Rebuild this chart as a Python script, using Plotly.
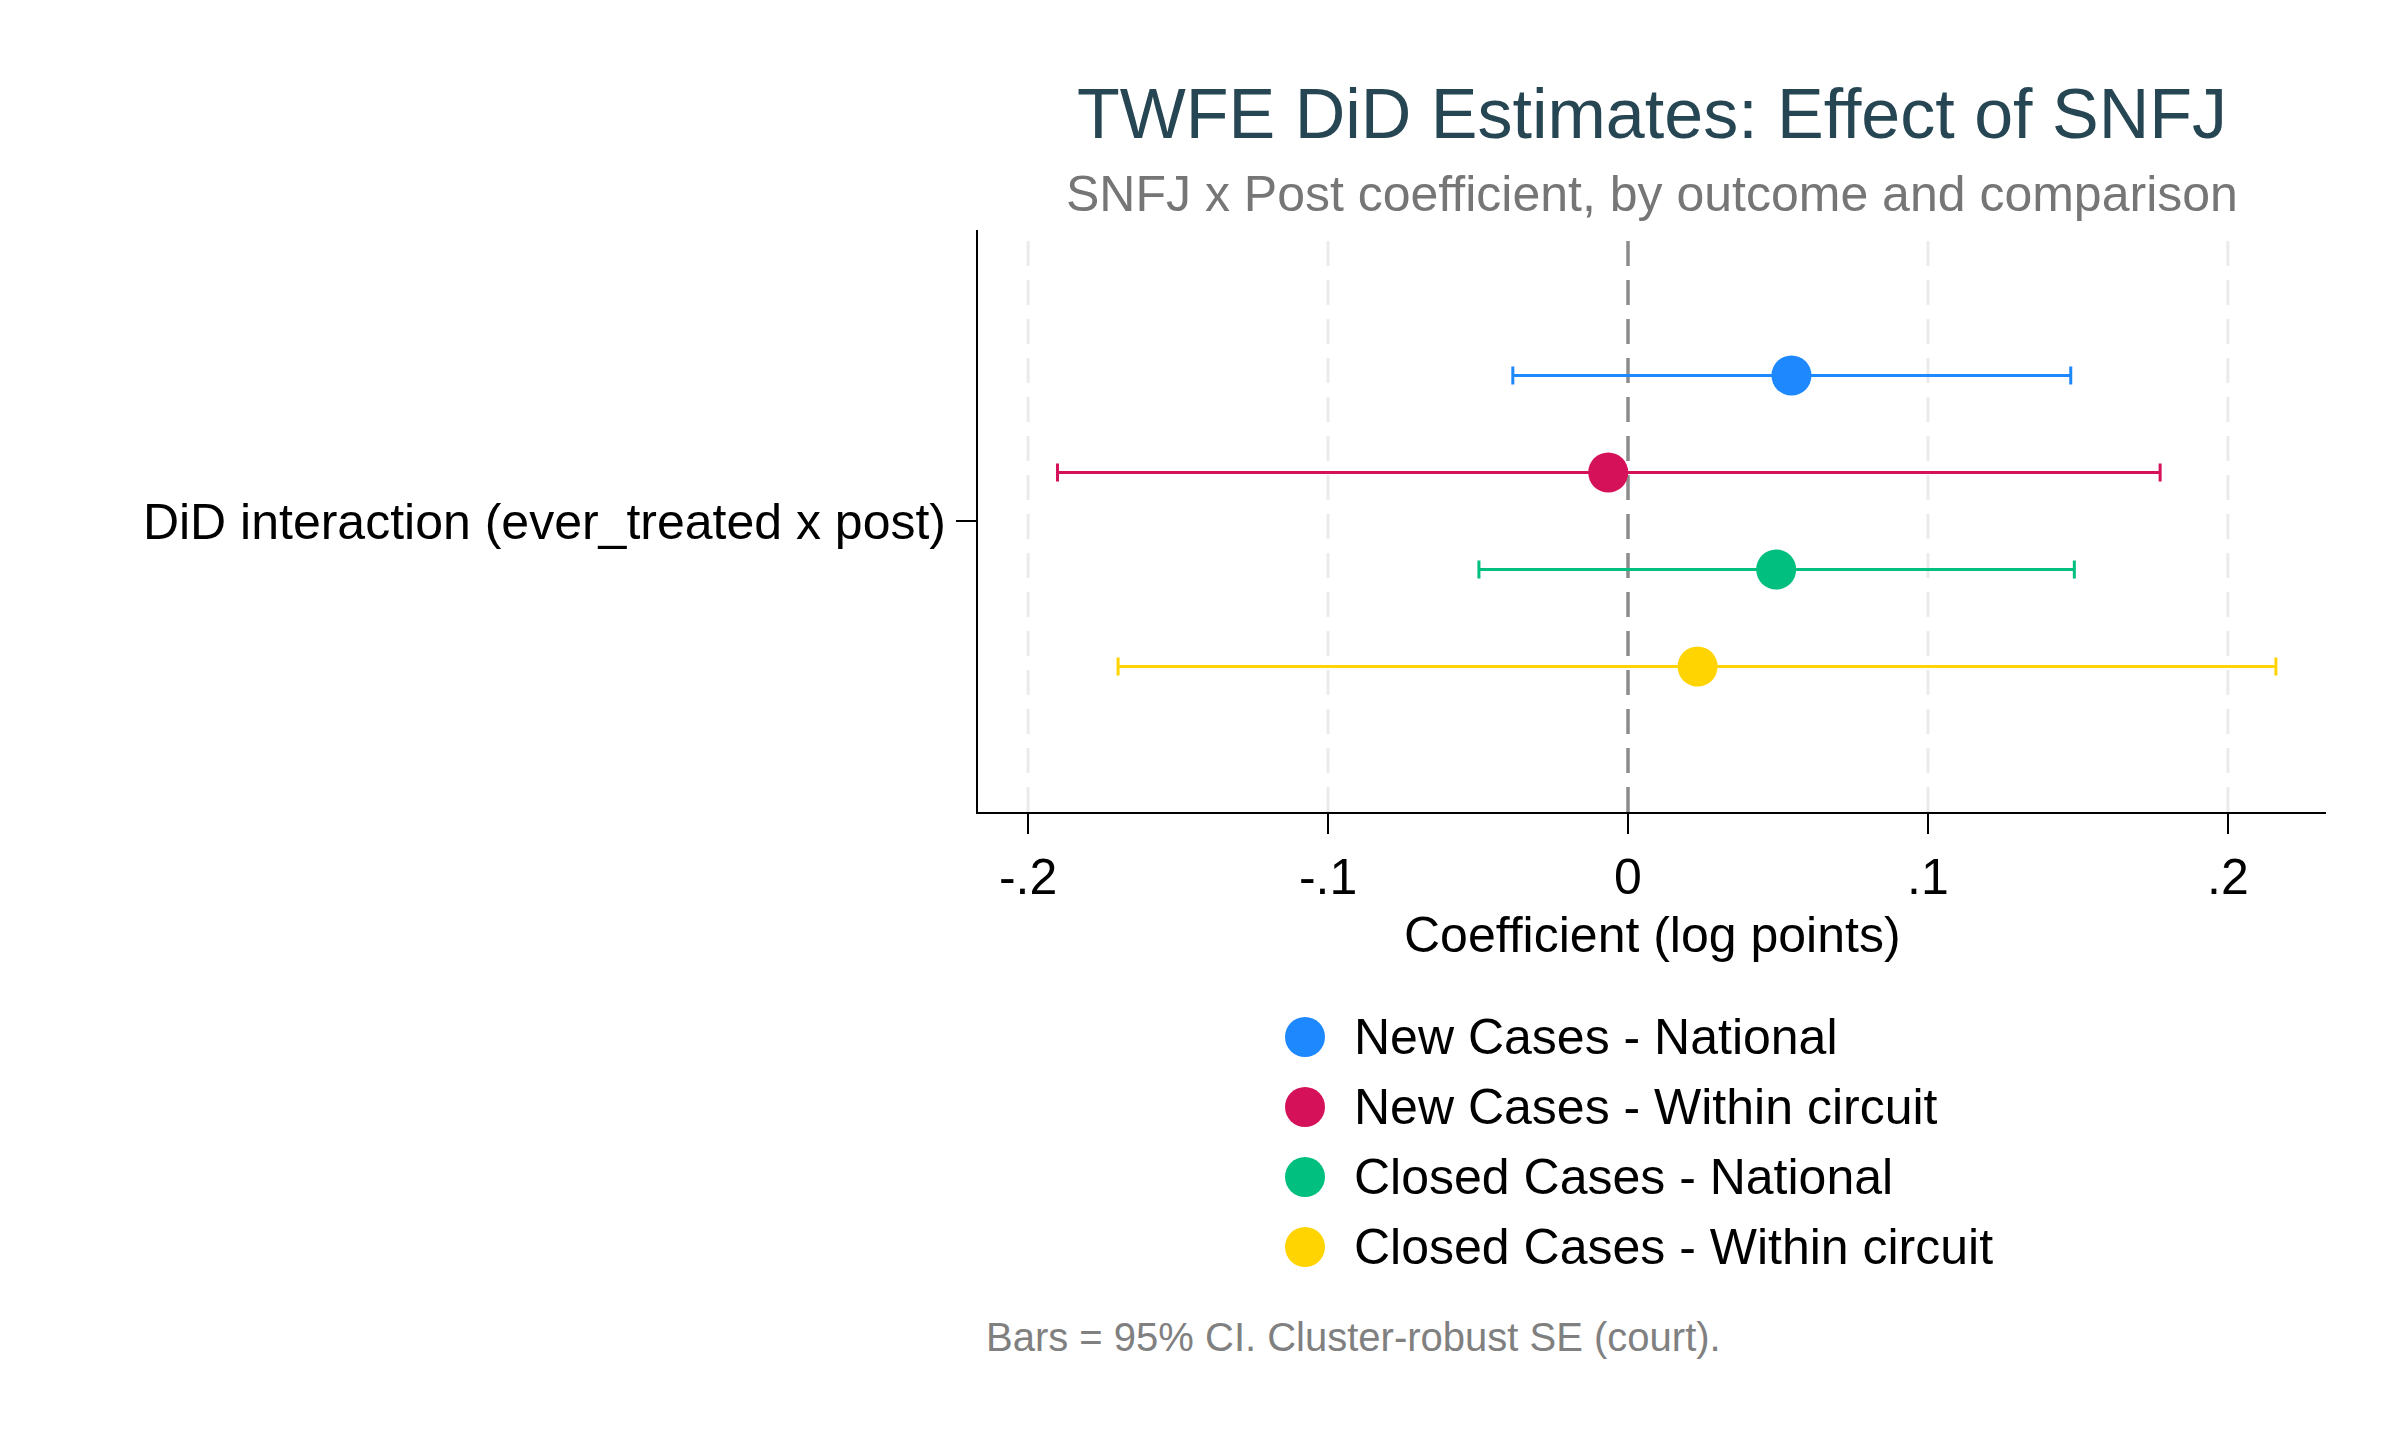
import plotly.graph_objects as go

# ---- data ----
series_names = ["New Cases - National", "New Cases - Within circuit",
                "Closed Cases - National", "Closed Cases - Within circuit"]
estimates = [0.0545, -0.0066, 0.0494, 0.0232]
ci_low = [-0.0384, -0.1902, -0.0497, -0.1700]
ci_high = [0.1476, 0.1774, 0.1488, 0.2160]
row_label = "DiD interaction (ever_treated x post)"
x_tick_vals = [-0.2, -0.1, 0.0, 0.1, 0.2]
x_tick_text = ["-.2", "-.1", "0", ".1", ".2"]
colors = ["#1E88FF", "#D41159", "#00BF7F", "#FFD400"]

FONT = "Liberation Sans, Arial, sans-serif"
W, H = 2400, 1440
PL, PR, PT, PB = 978, 2326, 230, 812  # plot area in pixels


def px(x):
    return (x - PL) / (PR - PL)


def py(y):
    return (PB - y) / (PB - PT)


fig = go.Figure()
n = len(series_names)
for i, name in enumerate(series_names):
    offset = (n - 1) / 2 - i
    fig.add_trace(go.Scatter(
        x=[estimates[i]], y=[offset], mode="markers", name=name,
        marker=dict(size=40, color=colors[i], line=dict(width=0)),
        error_x=dict(type="data", symmetric=False,
                     array=[ci_high[i] - estimates[i]],
                     arrayminus=[estimates[i] - ci_low[i]],
                     color=colors[i], thickness=3, width=9),
        showlegend=False,
    ))

# gridlines (non-zero ticks) and dashed zero reference line, all below traces
for tv in x_tick_vals:
    if tv != 0:
        fig.add_shape(type="line", xref="x", yref="paper", x0=tv, x1=tv, y0=0, y1=1,
                      line=dict(color="#EBEBEB", width=3, dash="25px,14px"), layer="below")
fig.add_shape(type="line", xref="x", yref="paper", x0=0, x1=0, y0=0, y1=1,
              line=dict(color="#8C8C8C", width=3.5, dash="25px,14px"), layer="below")

annotations = [
    dict(text="TWFE DiD Estimates: Effect of SNFJ", x=0.5, y=py(114),
         font=dict(size=70, color="#264653", family=FONT)),
    dict(text="SNFJ x Post coefficient, by outcome and comparison", x=0.5, y=py(194),
         font=dict(size=50, color="#767676", family=FONT)),
    dict(text="Coefficient (log points)", x=0.5, y=py(935),
         font=dict(size=50, color="#000000", family=FONT)),
    dict(text="Bars = 95% CI. Cluster-robust SE (court).", x=px(984), y=py(1337),
         xanchor="left", font=dict(size=40, color="#808080", family=FONT)),
]
shapes = []
for i, name in enumerate(series_names):
    cy = 1037 + 70 * i
    annotations.append(dict(text=name, x=px(1352), y=py(cy), xanchor="left",
                            font=dict(size=50, color="#000000", family=FONT)))
    shapes.append(dict(type="circle", xref="paper", yref="paper",
                       xsizemode="pixel", ysizemode="pixel",
                       xanchor=px(1305), yanchor=py(cy),
                       x0=-20, x1=20, y0=-20, y1=20,
                       fillcolor=colors[i], line=dict(width=0)))
for a in annotations:
    a.setdefault("xanchor", "center")
    a.update(xref="paper", yref="paper", yanchor="middle", showarrow=False)
for s in shapes:
    fig.add_shape(**s)

fig.update_layout(
    width=W, height=H,
    margin=dict(l=PL, r=W - PR, t=PT, b=H - PB, pad=0),
    paper_bgcolor="white", plot_bgcolor="white",
    font=dict(family=FONT, size=50, color="#000000"),
    annotations=annotations,
    showlegend=False,
)
fig.update_xaxes(
    range=[-0.2167, 0.2327], tickvals=x_tick_vals, ticktext=x_tick_text,
    showgrid=False, zeroline=False, showline=True, linecolor="#000000", linewidth=2,
    ticks="outside", ticklen=20, tickwidth=2, tickcolor="#000000",
    tickfont=dict(size=50, color="#000000", family=FONT),
)
fig.update_yaxes(
    range=[-3, 3], tickvals=[0], ticktext=[row_label],
    showgrid=False, zeroline=False, showline=True, linecolor="#000000", linewidth=2,
    ticks="outside", ticklen=20, tickwidth=2, tickcolor="#000000",
    tickfont=dict(size=50, color="#000000", family=FONT),
)

fig.write_html("out.html")
